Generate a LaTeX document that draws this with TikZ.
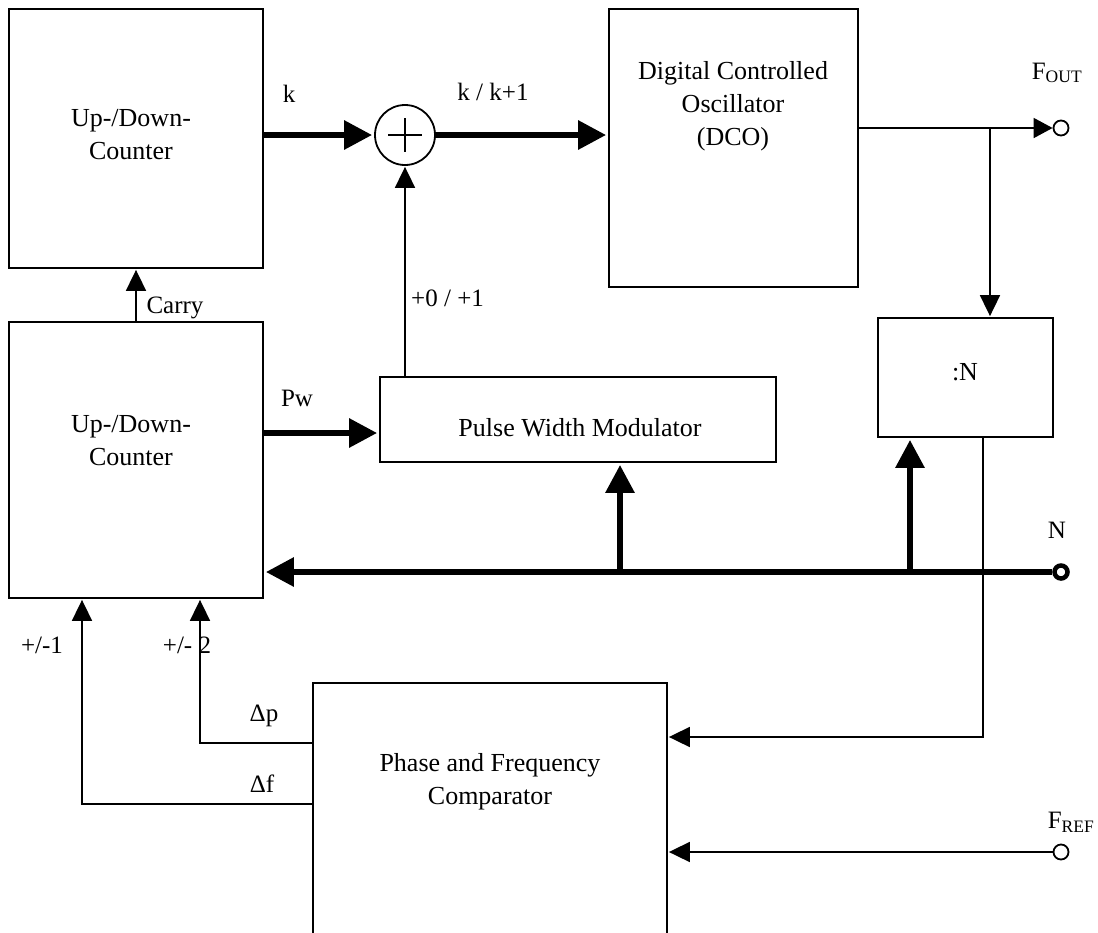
\documentclass[tikz,border=0pt]{standalone}
\usepackage{fontspec}
\setmainfont{Liberation Serif}
\usetikzlibrary{arrows.meta}
\tikzset{
  block/.style={draw, line width=1.8pt, inner sep=0pt},
  sig/.style={line width=1.8pt, -{Triangle[length=21pt,width=20pt]}, shorten >=1pt},
  bus/.style={line width=6pt, -{Triangle[length=28pt,width=28pt]}, shorten >=2pt},
  txt/.style={font=\fontsize{26}{33}\selectfont, align=center, inner sep=0pt},
  lbl/.style={font=\fontsize{25}{30}\selectfont, inner sep=0pt}
}
\begin{document}
\begin{tikzpicture}[x=1pt,y=-1pt]
    \useasboundingbox (0,0) rectangle (1098,932);

    % blocks
    \node[block, minimum width=254pt, minimum height=259pt] (cntA) at (136,138.5) {};
    \node[block, minimum width=254pt, minimum height=276pt] (cntB) at (136,460) {};
    \node[block, minimum width=249pt, minimum height=278pt] (dco) at (733.5,148) {};
    \node[block, minimum width=175pt, minimum height=119pt] (divN) at (965.5,377.5) {};
    \node[block, minimum width=396pt, minimum height=85pt] (pwm) at (578,419.5) {};
    \node[block, minimum width=354pt, minimum height=259pt] (pfc) at (490,812.5) {};
    \node[draw, circle, line width=1.8pt, minimum size=60pt, inner sep=0pt] (sum) at (405,135) {};
    \draw[line width=1.8pt] (388,135) -- (422,135) (405,118) -- (405,152);

    % terminals
    \node[draw, circle, line width=1.8pt, fill=white, minimum size=15pt, inner sep=0pt] (fout) at (1061,128) {};
    \node[draw, circle, line width=4.5pt, fill=white, minimum size=13pt, inner sep=0pt] (nin) at (1061,572) {};
    \node[draw, circle, line width=1.8pt, fill=white, minimum size=15pt, inner sep=0pt] (fref) at (1061,852) {};

    \coordinate (tap) at (990,128); \coordinate (brA) at (620,572); \coordinate (brB) at (910,572);
    \coordinate (nTap) at (983,737); \coordinate (dpC) at (200,743); \coordinate (dfC) at (82,804);
    \coordinate (pwIn) at ([yshift=-13.5pt]pwm.west);

    % connectors
    \draw[bus] (cntA.east |- sum) -- (sum); \draw[bus] (sum) -- (dco.west |- sum);
    \draw[sig] (pwm.north -| sum) -- (sum);
    \draw[line width=1.8pt, -{Triangle[length=19pt,width=20pt]}] (dco.east |- fout) -- (fout);
    \draw[sig] (tap) -- (divN.north -| tap);
    \draw[sig] (cntB.north) -- (cntA.south);
    \draw[bus] (cntB.east |- pwIn) -- (pwIn);
    \draw[bus] (nin) -- (cntB.east |- nin);
    \draw[bus] (brA) -- (pwm.south -| brA); \draw[bus] (brB) -- (divN.south -| brB);
    \draw[sig] (divN.south -| nTap) -- (nTap) -- (pfc.east |- nTap);
    \draw[sig] (fref) -- (pfc.east |- fref);
    \draw[sig] (pfc.west |- dpC) -- (dpC) -- (cntB.south -| dpC);
    \draw[sig] (pfc.west |- dfC) -- (dfC) -- (cntB.south -| dfC);

    % texts
    \node[txt] (tA) at (131,135) {Up-/Down-\\Counter};
    \node[txt] (tB) at (131,441) {Up-/Down-\\Counter};
    \node[txt] (tDco) at (733,106) {Digital Controlled\\Oscillator\\(DCO)};
    \node[txt] (tPwm) at (580,428) {Pulse Width Modulator};
    \node[txt] (tDiv) at (965,372) {:N};
    \node[txt] (tPfc) at (490,782) {Phase and Frequency\\Comparator};

    \node[lbl] (lk) at (289,94) {k}; \node[lbl] (lkk) at (493,92) {k / k+1};
    \node[lbl] (lcar) at (175,308) {Carry}; \node[lbl, anchor=west] (lpm) at (411,298) {+0 / +1};
    \node[lbl] (lpw) at (297,398) {Pw}; \node[lbl] (ldp) at (264,716) {Δp};
    \node[lbl] (ldf) at (262,784) {Δf}; \node[lbl] (lm1) at (42,645) {+/-1};
    \node[lbl] (lm2) at (187,645) {+/- 2}; \node[lbl] (lN) at (1057,530) {N};
    \node[lbl] (lfo) at (1057,73) {F\textsubscript{OUT}};
    \node[lbl] (lfr) at (1071,822) {F\textsubscript{REF}};
\end{tikzpicture}
\end{document}
